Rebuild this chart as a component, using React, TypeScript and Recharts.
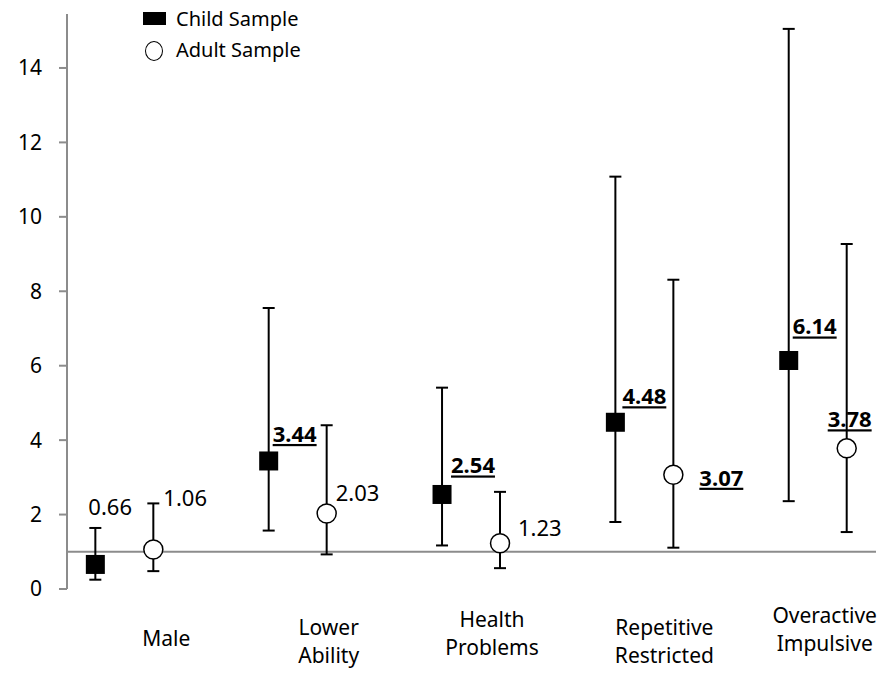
import React from 'react'
import { ScatterChart, Scatter, XAxis, YAxis, ErrorBar, ReferenceLine, LabelList } from 'recharts'

const FONT = '"Noto Sans", sans-serif'

const categories = ['Male', 'Lower Ability', 'Health Problems', 'Repetitive Restricted', 'Overactive Impulsive']
const childOR = [0.66, 3.44, 2.54, 4.48, 6.14]
const childLow = [0.25, 1.57, 1.17, 1.8, 2.36]
const childHigh = [1.64, 7.55, 5.41, 11.08, 15.05]
const adultOR = [1.06, 2.03, 1.23, 3.07, 3.78]
const adultLow = [0.48, 0.93, 0.56, 1.11, 1.53]
const adultHigh = [2.3, 4.4, 2.61, 8.31, 9.27]
// bold + underlined labels in the original
const childSignificant = [false, true, true, true, true]
const adultSignificant = [false, false, false, true, true]
const yTicks = [0, 2, 4, 6, 8, 10, 12, 14]
const xTicks = [1, 2, 3, 4, 5]

// layout tweaks (pixels / axis units), not data
const CHILD_SHIFT = 0.3345
const childLabelPos = [[-7, -57], [4, -27], [9, -29], [7, -26], [4, -34]]
const adultLabelPos = [[10, -52], [9, -20], [18, -15], [26, 3], [-19, -29]]
const catLabelPos = [[13, 49], [2, 38], [-8, 30], [-9, 38], [-22, 26]]

const childData = categories.map((c, i) => ({
  x: i + 1 - CHILD_SHIFT,
  y: childOR[i],
  err: [childOR[i] - childLow[i], childHigh[i] - childOR[i]],
}))

const adultData = categories.map((c, i) => ({
  x: i + 1,
  y: adultOR[i],
  err: [adultOR[i] - adultLow[i], adultHigh[i] - adultOR[i]],
}))

const Square = (p: any) => <rect x={p.cx - 9.5} y={p.cy - 9.5} width={19} height={19} fill="#000" />
const Circle = (p: any) => <circle cx={p.cx} cy={p.cy} r={9.5} fill="#fff" stroke="#000" strokeWidth={1.5} />

const makeLabel = (pos: number[][], significant: boolean[]) => (props: any) => {
  const vb = props.viewBox || props
  const cx = vb.x + (vb.width || 0) / 2
  const cy = vb.y + (vb.height || 0) / 2
  const i = props.index
  const bold = significant[i]
  const [dx, dy] = pos[i]
  return (
    <text
      x={cx + dx}
      y={cy + dy + 8}
      fontSize={22}
      fontFamily={FONT}
      fontWeight={bold ? 700 : 400}
      style={bold ? { textDecoration: 'underline' } : undefined}
      fill="#000"
    >
      {Number(props.value).toFixed(2)}
    </text>
  )
}

const CategoryTick = ({ x, y, payload }: any) => {
  const i = Math.round(payload.value) - 1
  const words = categories[i].split(' ')
  const [dx, dy] = catLabelPos[i]
  return (
    <text x={x + dx} y={y + dy + 7.5} textAnchor="middle" fontSize={21} fontFamily={FONT} fill="#000">
      {words.map((w, k) => (
        <tspan key={k} x={x + dx} dy={k === 0 ? 0 : 28}>
          {w}
        </tspan>
      ))}
    </text>
  )
}

export default function App() {
  return (
    <div style={{ position: 'absolute', left: 0, top: 0, width: 891, height: 673, background: '#fff' }}>
      <ScatterChart width={891} height={673} margin={{ top: 14, right: 15, bottom: 0, left: 0 }}>
        <XAxis
          type="number"
          dataKey="x"
          domain={[0.502, 5.169]}
          ticks={xTicks}
          axisLine={false}
          tickLine={false}
          tickSize={0}
          tickMargin={0}
          height={84}
          tick={<CategoryTick />}
          interval={0}
        />
        <YAxis
          type="number"
          dataKey="y"
          domain={[0, 15.45]}
          ticks={yTicks}
          width={67}
          axisLine={{ stroke: '#8c8c8c', strokeWidth: 2 }}
          tickLine={{ stroke: '#8c8c8c', strokeWidth: 2 }}
          tickSize={8}
          tickMargin={17}
          tick={{ fill: '#000', fontSize: 21, fontFamily: FONT }}
          allowDataOverflow
        />
        <ReferenceLine y={1} stroke="#8c8c8c" strokeWidth={2} />
        <Scatter data={childData} shape={Square} isAnimationActive={false} name="Child Sample">
          <ErrorBar dataKey="err" direction="y" width={6} stroke="#000" strokeWidth={2} />
          <LabelList dataKey="y" content={makeLabel(childLabelPos, childSignificant)} />
        </Scatter>
        <Scatter data={adultData} shape={Circle} isAnimationActive={false} name="Adult Sample">
          <ErrorBar dataKey="err" direction="y" width={6} stroke="#000" strokeWidth={2} />
          <LabelList dataKey="y" content={makeLabel(adultLabelPos, adultSignificant)} />
        </Scatter>
      </ScatterChart>
      <div style={{ position: 'absolute', left: 0, top: 0, fontFamily: FONT, fontSize: 20, color: '#000' }}>
        <div style={{ position: 'absolute', left: 143, top: 12, width: 23, height: 13, background: '#000' }} />
        <div style={{ position: 'absolute', left: 176, top: 5, lineHeight: '28px', whiteSpace: 'nowrap' }}>Child Sample</div>
        <div
          style={{
            position: 'absolute',
            left: 145,
            top: 41,
            width: 16,
            height: 18,
            borderRadius: '50%',
            border: '1.5px solid #000',
            background: '#fff',
          }}
        />
        <div style={{ position: 'absolute', left: 176, top: 36, lineHeight: '28px', whiteSpace: 'nowrap' }}>Adult Sample</div>
      </div>
    </div>
  )
}
